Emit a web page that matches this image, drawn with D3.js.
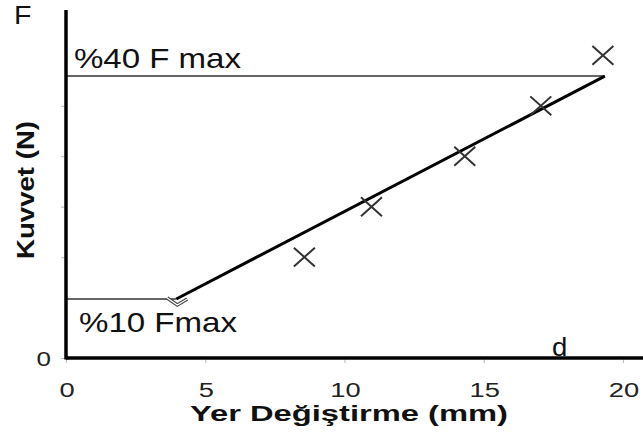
<!DOCTYPE html>
<html>
<head>
<meta charset="utf-8">
<script src="https://cdn.jsdelivr.net/npm/d3@7"></script>
<style>
  html, body { margin: 0; padding: 0; background: #fff; }
  svg { display: block; font-family: Arial, "Liberation Sans", sans-serif; }
</style>
</head>
<body>
<svg id="chart" width="643" height="443"></svg>
<script>
// ---- data ----
const pointX = [8.56, 10.97, 14.32, 17.05, 19.28];
const pointY = [2.0, 3.0, 4.0, 5.0, 6.0];
const fitX = [3.96, 19.35];
const fitY = [1.17, 5.59];
const xTickValues = [0, 5, 10, 15, 20];
const xTickLabels = ["0", "5", "10", "15", "20"];
const yTickValues = [0, 2, 3, 4, 5];
const yTickLabels = ["0", "", "", "", ""];
const lowLevel = { label: "%10 Fmax", y: 1.17, x: 3.96 };
const highLevel = { label: "%40 F max", y: 5.59, x: 19.35 };
const xTitle = "Yer Değiştirme (mm)";
const yTitle = "Kuvvet (N)";

const svg = d3.select("#chart");
const x = d3.scaleLinear().domain([0, 20.72]).range([66, 643]);
const y = d3.scaleLinear().domain([0, 6.9]).range([358, 10]);

// tick marks (faint)
const xAxis = d3.axisBottom(x).tickValues(xTickValues).tickSize(5).tickFormat("");
const gx = svg.append("g").attr("transform", `translate(0,${y(0)})`).call(xAxis);
gx.select(".domain").remove();
gx.selectAll(".tick line").attr("stroke", "#bbb").attr("stroke-width", 1);
const yAxis = d3.axisLeft(y).tickValues(yTickValues).tickSize(5).tickFormat("");
const gy = svg.append("g").attr("transform", `translate(${x(0)},0)`).call(yAxis);
gy.select(".domain").remove();
gy.selectAll(".tick line").attr("stroke", "#bbb").attr("stroke-width", 1);

// tick labels (slightly wide glyphs like the reference)
svg.append("g").selectAll("text").data(xTickValues).join("text")
  .attr("transform", d => `translate(${x(d) + 1},397) scale(1.3,1)`)
  .attr("text-anchor", "middle").attr("font-size", 21).attr("fill", "#222")
  .text((d, i) => xTickLabels[i]);
svg.append("g").selectAll("text").data(yTickValues.filter((d, i) => yTickLabels[i] !== "")).join("text")
  .attr("transform", d => `translate(51,${y(d) + 8}) scale(1.3,1)`)
  .attr("text-anchor", "end").attr("font-size", 20).attr("fill", "#222")
  .text(d => yTickLabels[yTickValues.indexOf(d)]);

// reference level lines
svg.append("line").attr("x1", x(0)).attr("x2", x(highLevel.x))
  .attr("y1", y(highLevel.y)).attr("y2", y(highLevel.y))
  .attr("stroke", "#333").attr("stroke-width", 1.5);
svg.append("line").attr("x1", x(0)).attr("x2", x(lowLevel.x))
  .attr("y1", y(lowLevel.y)).attr("y2", y(lowLevel.y))
  .attr("stroke", "#333").attr("stroke-width", 1.5);

// small chevron at start of fit line
const cx = x(fitX[0]), cy = y(fitY[0]);
const chev = `M${cx - 9},${cy - 1} L${cx + 1},${cy + 6} L${cx + 11},${cy}`;
svg.append("path").attr("d", chev)
  .attr("fill", "none").attr("stroke", "#444").attr("stroke-width", 3.4);
svg.append("path").attr("d", chev)
  .attr("fill", "none").attr("stroke", "#fff").attr("stroke-width", 1.3);

// fit line
const line = d3.line().x(d => x(d[0])).y(d => y(d[1]));
svg.append("path").datum(d3.zip(fitX, fitY)).attr("d", line)
  .attr("fill", "none").attr("stroke", "#000").attr("stroke-width", 3);

// X markers
const s = 10.5;
const pts = d3.zip(pointX, pointY);
svg.append("g").selectAll("path").data(pts).join("path")
  .attr("d", d => {
    const px = x(d[0]), py = y(d[1]);
    return `M${px - s},${py - s * 0.9} L${px + s},${py + s * 0.9} M${px - s},${py + s * 0.9} L${px + s},${py - s * 0.9}`;
  })
  .attr("fill", "none").attr("stroke", "#333").attr("stroke-width", 2);

// axes lines
svg.append("line").attr("x1", x(0)).attr("x2", 643).attr("y1", y(0)).attr("y2", y(0))
  .attr("stroke", "#000").attr("stroke-width", 3.5);
svg.append("line").attr("x1", x(0)).attr("x2", x(0)).attr("y1", y(6.9)).attr("y2", y(0) + 1.5)
  .attr("stroke", "#000").attr("stroke-width", 3.5);

// annotations
svg.append("text").attr("x", 74).attr("y", 68).attr("font-size", 28).attr("fill", "#111")
  .attr("textLength", 167).attr("lengthAdjust", "spacingAndGlyphs").text(highLevel.label);
svg.append("text").attr("x", 79).attr("y", 332).attr("font-size", 28).attr("fill", "#111")
  .attr("textLength", 158).attr("lengthAdjust", "spacingAndGlyphs").text(lowLevel.label);
svg.append("text").attr("transform", "translate(14,24) scale(1.1,1)")
  .attr("font-size", 26).attr("fill", "#111").text("F");
svg.append("text").attr("transform", "translate(552,356) scale(1.1,1)")
  .attr("font-size", 25).attr("fill", "#111").text("d");

// axis titles
svg.append("text").attr("x", 190).attr("y", 421).attr("font-size", 22).attr("font-weight", "bold")
  .attr("fill", "#111").attr("textLength", 318).attr("lengthAdjust", "spacingAndGlyphs").text(xTitle);
svg.append("text").attr("transform", "translate(34,259) rotate(-90)")
  .attr("font-size", 23).attr("font-weight", "bold").attr("fill", "#111")
  .attr("textLength", 138).attr("lengthAdjust", "spacingAndGlyphs").text(yTitle);
</script>
</body>
</html>
